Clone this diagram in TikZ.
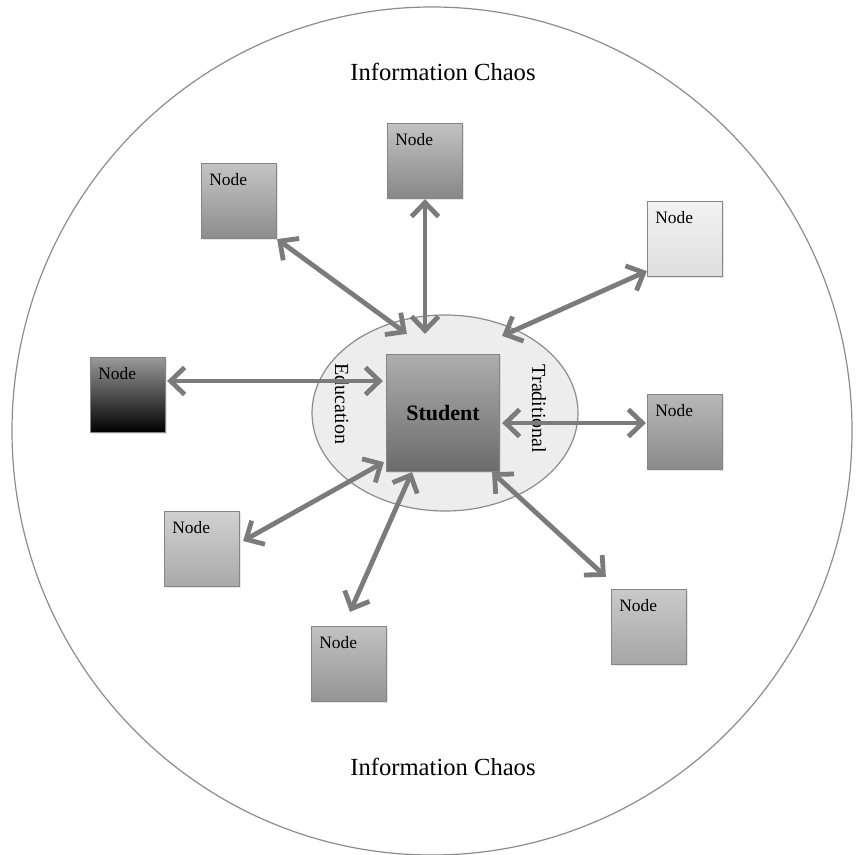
\documentclass[tikz,border=0pt]{standalone}
\usepackage{fontspec}
\setmainfont{Liberation Serif}
\usetikzlibrary{arrows.meta,calc,positioning,shapes.geometric,shadows}
\definecolor{rim}{HTML}{8C8C8C}
\definecolor{halo}{HTML}{EDEDED}
\definecolor{link}{HTML}{7B7B7B}
\definecolor{edge}{HTML}{858585}

\tikzset{
  nodebox/.style={draw=edge,line width=0.6pt,minimum size=37.5pt,inner sep=0pt,
    drop shadow={opacity=0.2,shadow xshift=0.8pt,shadow yshift=-0.8pt},
    label={[anchor=north west,inner sep=0pt,xshift=4pt,yshift=-5pt,
      font=\fontsize{8.7}{10}\selectfont]north west:Node}},
  link/.style={draw=link,line width=2.4pt,line cap=round,
    {Straight Barb[length=7pt,width=13.5pt]}-{Straight Barb[length=7pt,width=13.5pt]}},
  chaostext/.style={font=\fontsize{12.3}{14}\selectfont},
  sidetext/.style={rotate=-90,font=\fontsize{10}{12}\selectfont}
}

\begin{document}
\begin{tikzpicture}[x=0.5pt,y=-0.5pt]
\useasboundingbox (0,0) rectangle (861,855);
\node[draw=rim,line width=0.6pt,ellipse,minimum width=420pt,minimum height=424pt] (chaos) at (432,431) {};
\node[chaostext] (chaostop) at (443,72) {Information Chaos};
\node[chaostext] (chaosbot) at (443,767) {Information Chaos};
\node[draw=rim,fill=halo,line width=0.6pt,ellipse,minimum width=133pt,minimum height=98pt] (school) at (445,413) {};
\node[sidetext] (edu) at (342,404) {Education};
\node[sidetext] (trad) at (539,409) {Traditional};

\node[draw=edge,line width=0.6pt,top color=black!32,bottom color=black!58,minimum width=56.5pt,minimum height=58.5pt,
  drop shadow={opacity=0.2,shadow xshift=0.8pt,shadow yshift=-0.8pt},
  font=\fontsize{11}{13}\selectfont\bfseries] (student) at (443,413) {Student};

% the eight nodes round the student
\node[nodebox,top color=black!23,bottom color=black!45] (n1) at (239,201) {};
\node[nodebox,top color=black!24,bottom color=black!47] (n2) at (425,161) {};
\node[nodebox,top color=black!5,bottom color=black!13] (n3) at (685,239) {};
\node[nodebox,top color=black!40,bottom color=black] (n4) at (128,395) {};
\node[nodebox,top color=black!28,bottom color=black!46] (n5) at (685,432) {};
\node[nodebox,top color=black!18,bottom color=black!34] (n6) at (202,549) {};
\node[nodebox,top color=black!24,bottom color=black!42] (n7) at (349,664) {};
\node[nodebox,top color=black!21,bottom color=black!35] (n8) at (649,627) {};

\draw[link] (n1.south east) -- ($(student.north west)+(21,-20)$);
\draw[link] (n2.south) -- ($(student.north)+(-18,-20)$);
\draw[link] ($(n3.south west)+(0,-6)$) -- ($(student.north east)+(2,-18)$);
\draw[link] ($(n4.east)+(1,-14)$) -- ($(student.west)+(-3,-32)$);
\draw[link] ($(student.east)+(2,10)$) -- ($(n5.west)+(-1,-9)$);
\draw[link] ($(n6.east)+(3,-8)$) -- ($(student.south west)+(-2,-10)$);
\draw[link] ($(n7.north)+(1,-14)$) -- ($(student.south)+(-31,0)$);
\draw[link] ($(student.south)+(49,0)$) -- ($(n8.north west)+(-5,-12)$);
\end{tikzpicture}
\end{document}
